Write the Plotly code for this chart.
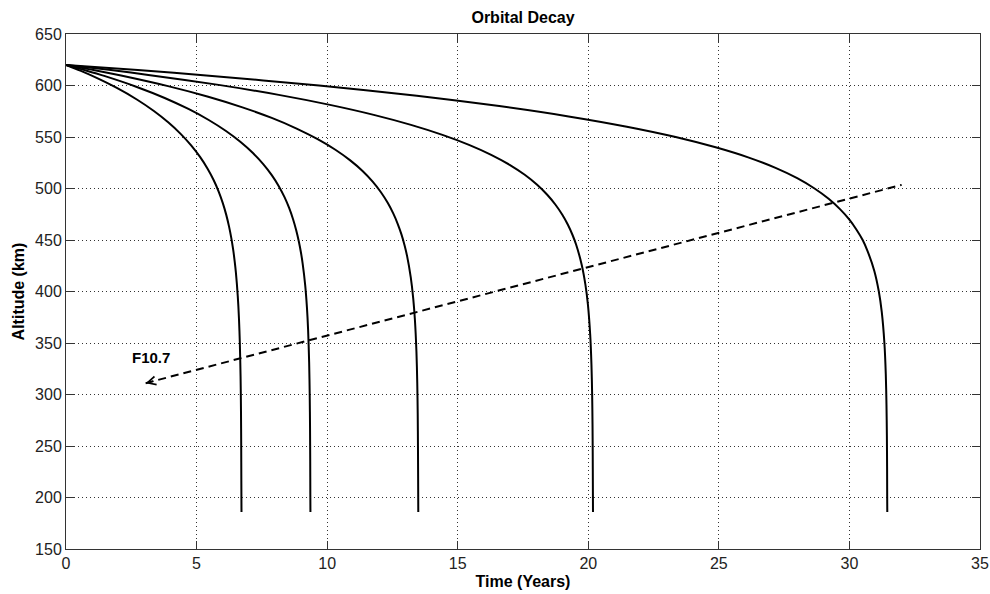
import plotly.graph_objects as go

# Orbital decay curves (time in years, altitude in km)
t1 = [0, 0.548, 1.050, 1.947, 2.713, 3.366, 3.924, 4.399, 4.800, 5.139, 5.422, 5.657, 5.850, 6.008,
      6.137, 6.242, 6.329, 6.400, 6.458, 6.506, 6.576, 6.624, 6.655, 6.685, 6.701, 6.709, 6.714, 6.720]
h1 = [620, 614.4, 608.8, 597.6, 586.4, 575.2, 564, 552.8, 541.6, 530.4, 519.2, 508, 496.8, 485.6,
      474.4, 463.2, 452, 440.8, 429.6, 418.4, 396, 373.6, 351.2, 317.6, 284, 250.4, 216.8, 186]

t2 = [0, 0.763, 1.463, 2.712, 3.779, 4.688, 5.466, 6.127, 6.686, 7.158, 7.552, 7.879, 8.148, 8.368,
      8.548, 8.695, 8.815, 8.914, 8.995, 9.061, 9.160, 9.226, 9.270, 9.311, 9.333, 9.345, 9.352, 9.356, 9.360]
h2 = [620, 614.6, 609.3, 598.6, 587.9, 577.2, 566.5, 555.8, 545.1, 534.4, 523.7, 513, 502.3, 491.6,
      480.9, 470.2, 459.5, 448.8, 438.1, 427.4, 406, 384.6, 363.2, 331.1, 299, 266.9, 234.8, 202.7, 186]

t3 = [0, 1.099, 2.108, 3.908, 5.446, 6.757, 7.878, 8.831, 9.636, 10.316, 10.884, 11.356, 11.743, 12.060,
      12.319, 12.531, 12.705, 12.848, 12.964, 13.060, 13.201, 13.296, 13.360, 13.419, 13.451, 13.469, 13.478, 13.484, 13.490]
h3 = [620, 614.9, 609.7, 599.4, 589.1, 578.8, 568.5, 558.2, 547.9, 537.6, 527.3, 517, 506.7, 496.4,
      486.1, 475.8, 465.5, 455.2, 444.9, 434.6, 414, 393.4, 372.8, 341.9, 311, 280.1, 249.2, 218.3, 186]

t4 = [0, 1.645, 3.154, 5.846, 8.147, 10.108, 11.785, 13.210, 14.415, 15.432, 16.281, 16.988, 17.567, 18.041,
      18.428, 18.745, 19.006, 19.219, 19.393, 19.536, 19.748, 19.890, 19.986, 20.073, 20.121, 20.148, 20.162, 20.170, 20.175, 20.180]
h4 = [620, 615.2, 610.3, 600.6, 590.9, 581.2, 571.5, 561.8, 552.1, 542.4, 532.7, 523, 513.3, 503.6,
      493.9, 484.2, 474.5, 464.8, 455.1, 445.4, 426, 406.6, 387.2, 358.1, 329, 299.9, 270.8, 241.7, 212.6, 186]

t5 = [0, 2.749, 5.258, 9.690, 13.435, 16.590, 19.247, 21.477, 23.345, 24.877, 26.148, 27.170, 28.000, 28.664,
      29.204, 29.638, 29.991, 30.271, 30.507, 30.683, 30.953, 31.126, 31.239, 31.339, 31.392, 31.419, 31.434, 31.442, 31.446, 31.450]
h5 = [620, 615, 610, 600, 590, 580, 570, 560, 550, 540, 530, 520, 510, 500,
      490, 480, 470, 460, 450, 440, 420, 400, 380, 350, 320, 290, 260, 230, 200, 186]

# F10.7 trend arrow (dashed)
f107_t = [3.05, 32.0]
f107_h = [311, 503.5]
f107_label = "F10.7"

x_ticks = [0, 5, 10, 15, 20, 25, 30, 35]
y_ticks = [150, 200, 250, 300, 350, 400, 450, 500, 550, 600, 650]

FONT = "Liberation Sans, Arial, sans-serif"

fig = go.Figure()
for tt, hh in [(t1, h1), (t2, h2), (t3, h3), (t4, h4), (t5, h5)]:
    fig.add_trace(go.Scatter(x=tt, y=hh, mode="lines",
                             line=dict(color="black", width=2, shape="spline", smoothing=0.8),
                             showlegend=False, hoverinfo="skip"))

fig.add_trace(go.Scatter(x=f107_t, y=f107_h, mode="lines",
                         line=dict(color="black", width=2, dash="8px,5px"),
                         showlegend=False, hoverinfo="skip"))

# arrow head at the low end of the dashed line
fig.add_annotation(x=f107_t[0], y=f107_h[0], ax=f107_t[0] + 0.35,
                   ay=f107_h[0] + 0.35 * (f107_h[1] - f107_h[0]) / (f107_t[1] - f107_t[0]),
                   xref="x", yref="y", axref="x", ayref="y", text="",
                   showarrow=True, arrowhead=5, arrowsize=1.1, arrowwidth=1.5,
                   arrowcolor="black")

fig.add_annotation(x=3.26, y=336, xref="x", yref="y", text="<b>" + f107_label + "</b>",
                   showarrow=False, font=dict(family=FONT, size=15, color="black"))

axis_common = dict(showline=True, linecolor="#333333", linewidth=1, mirror="ticks",
                   ticks="inside", ticklen=8, tickcolor="#333333", tickwidth=1,
                   showgrid=True, gridcolor="rgba(0,0,0,0.8)", gridwidth=1, griddash="1px,3px",
                   zeroline=False, automargin=False,
                   tickfont=dict(family=FONT, size=16, color="#222222"))

fig.update_layout(
    width=990, height=594,
    margin=dict(l=66, r=10, t=34, b=45),
    paper_bgcolor="white", plot_bgcolor="white",
    title=dict(text="<b>Orbital Decay</b>", x=0.5283, xanchor="center", y=0.97, yanchor="middle",
               font=dict(family=FONT, size=16, color="black")),
    xaxis=dict(range=[0, 35], tickvals=x_ticks, ticktext=[str(v) for v in x_ticks],
               title=dict(text="<b>Time (Years)</b>", standoff=4,
                          font=dict(family=FONT, size=16, color="black")),
               **axis_common),
    yaxis=dict(range=[150, 650], tickvals=y_ticks, ticktext=[str(v) for v in y_ticks],
               title=dict(text="<b>Altitude (km)</b>", standoff=6,
                          font=dict(family=FONT, size=16, color="black")),
               **axis_common),
)

fig.write_html("out.html")
